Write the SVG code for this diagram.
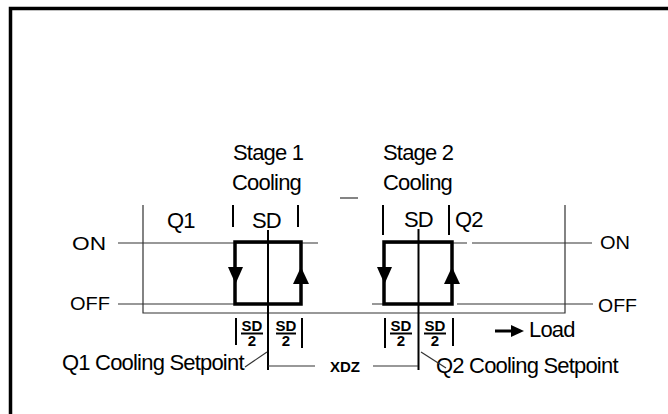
<svg xmlns="http://www.w3.org/2000/svg" width="668" height="414" viewBox="0 0 668 414">
<style>
.t{font-family:"Liberation Sans",Arial,sans-serif;font-size:22px;letter-spacing:-0.8px;fill:#000}
.lb{font-family:"Liberation Sans",Arial,sans-serif;font-size:19px;fill:#000}
.b{font-family:"Liberation Sans",Arial,sans-serif;font-size:15px;font-weight:bold;fill:#000;text-anchor:middle}
.thin{stroke:#333;stroke-width:1.2;fill:none}
.med{stroke:#000;stroke-width:2;fill:none}
.thick{stroke:#000;stroke-width:3.5;fill:none}
.ah{fill:#000;stroke:none}
</style>
<rect width="668" height="414" fill="#fff"/>
<path d="M10.5,414 V8.5 H668" stroke="#000" stroke-width="3.5" fill="none"/>

<g id="axes">
<path class="thin" d="M143,205 V313 H565 V205"/>
<path class="thin" d="M340,198 H358"/>
</g>

<g id="labels">
<text class="lb" x="72" y="250" textLength="34" lengthAdjust="spacingAndGlyphs">ON</text>
<text class="lb" x="70" y="310" textLength="40" lengthAdjust="spacingAndGlyphs">OFF</text>
<text class="lb" x="600" y="249" textLength="30" lengthAdjust="spacingAndGlyphs">ON</text>
<text class="lb" x="598" y="312" textLength="39" lengthAdjust="spacingAndGlyphs">OFF</text>
<text class="t" x="167" y="228">Q1</text>
<text class="t" x="455" y="227">Q2</text>
</g>

<g id="stage1">
<text class="t" x="233" y="160">Stage 1</text>
<text class="t" x="232" y="190">Cooling</text>
<text class="t" x="252" y="228">SD</text>
<path class="med" d="M233,205 V227 M298,205 V227"/>
<path class="thin" d="M118,243 H318 M118,304 H235"/>
<rect class="thick" x="235" y="242" width="66" height="62"/>
<polygon class="ah" points="228,267 243,267 235.5,284"/>
<polygon class="ah" points="293,284 309,284 301,267"/>
<path class="med" d="M268,230 V370"/>
<path class="med" d="M236,318 V345 M302,318 V348"/>
<text class="b" x="252" y="330.5">SD</text>
<path class="med" d="M241,333.5 H263" stroke-width="1.5"/>
<text class="b" x="252" y="346">2</text>
<text class="b" x="286" y="330.5">SD</text>
<path class="med" d="M276,333.5 H296" stroke-width="1.5"/>
<text class="b" x="286" y="346">2</text>
<text class="t" x="62" y="370">Q1 Cooling Setpoint</text>
</g>

<g id="stage2">
<text class="t" x="383" y="160">Stage 2</text>
<text class="t" x="383" y="190">Cooling</text>
<text class="t" x="404" y="227">SD</text>
<path class="med" d="M383,205 V235 M449,205 V235"/>
<path class="thin" d="M384,243 H467 M472,243 H592 M372,304 H384 M457,304 H593"/>
<rect class="thick" x="384" y="242" width="68" height="62"/>
<polygon class="ah" points="377,267 392,267 384.5,284"/>
<polygon class="ah" points="444,284 460,284 452,267"/>
<path class="med" d="M418.5,229 V370"/>
<path class="med" d="M385,318 V348 M453,318 V346"/>
<text class="b" x="401" y="330.5">SD</text>
<path class="med" d="M390,333.5 H412" stroke-width="1.5"/>
<text class="b" x="401" y="346">2</text>
<text class="b" x="435" y="330.5">SD</text>
<path class="med" d="M424,333.5 H446" stroke-width="1.5"/>
<text class="b" x="435" y="346">2</text>
<text class="t" x="436" y="373">Q2 Cooling Setpoint</text>
</g>

<g id="load">
<path d="M495,331 H513" stroke="#000" stroke-width="3"/>
<polygon class="ah" points="511,325 524,331 511,337"/>
<text class="t" x="529" y="337">Load</text>
</g>

<g id="connectors">
<path class="thin" d="M268,366 H315 M373,366 H418"/>
<text class="b" x="345" y="372" textLength="30" lengthAdjust="spacingAndGlyphs">XDZ</text>
<path class="thin" d="M245,367 L267,352"/>
<path class="thin" d="M421,352 L446,368"/>
</g>
</svg>
